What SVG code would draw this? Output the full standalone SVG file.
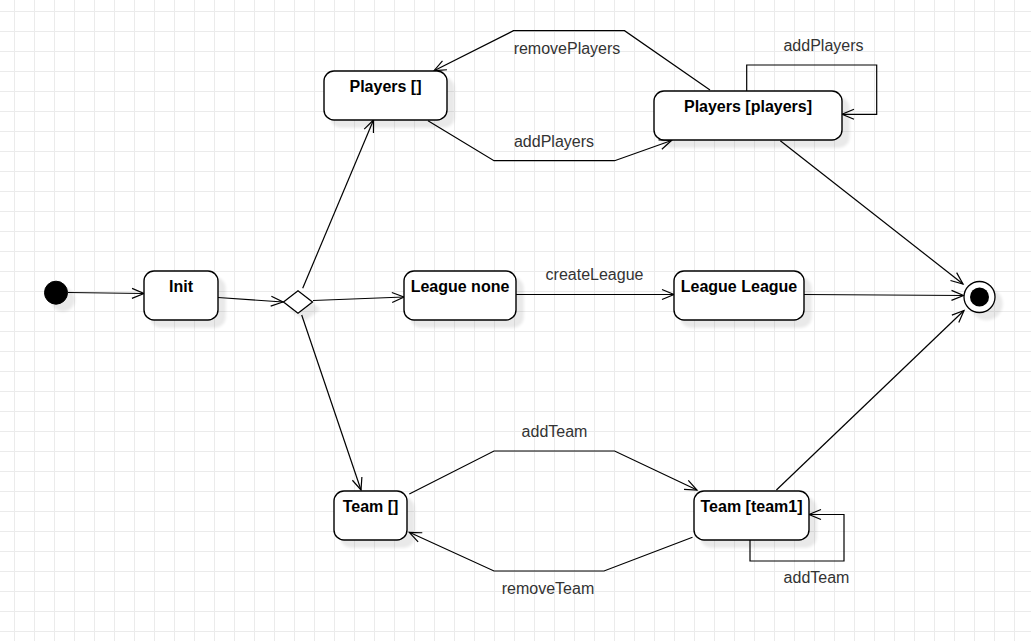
<svg xmlns="http://www.w3.org/2000/svg" width="1031" height="641" viewBox="0 0 1031 641">
  <defs>
    <pattern id="grid" patternUnits="userSpaceOnUse" x="14" y="11" width="20" height="20">
      <rect x="0" y="0" width="1" height="20" fill="#ebebeb"/>
      <rect x="0" y="0" width="20" height="1" fill="#ebebeb"/>
    </pattern>
    <filter id="shadow" x="-20%" y="-20%" width="160%" height="160%">
      <feGaussianBlur in="SourceAlpha" stdDeviation="1.5" result="b"/>
      <feOffset in="b" dx="7" dy="7" result="o"/>
      <feComponentTransfer in="o" result="s">
        <feFuncA type="linear" slope="0.09"/>
      </feComponentTransfer>
      <feMerge>
        <feMergeNode in="s"/>
        <feMergeNode in="SourceGraphic"/>
      </feMerge>
    </filter>
    <marker id="arrow" markerUnits="userSpaceOnUse" markerWidth="16" markerHeight="14" refX="13" refY="7" orient="auto">
      <path d="M1,2 L13,7 L1,12" fill="none" stroke="#000" stroke-width="1.2"/>
    </marker>
    <style>
      .state { fill: #fff; stroke: #000; stroke-width: 1.4; filter: url(#shadow); }
      .name { font-family: "Liberation Sans", Arial, sans-serif; font-size: 16px; font-weight: bold; fill: #000; text-anchor: middle; }
      .lbl { font-family: "Liberation Sans", Arial, sans-serif; font-size: 16px; fill: #333; text-anchor: middle; }
      .edge { fill: none; stroke: #000; stroke-width: 1.2; marker-end: url(#arrow); }
    </style>
  </defs>
  <rect x="0" y="0" width="1031" height="641" fill="#fff"/>
  <rect x="0" y="0" width="1031" height="641" fill="url(#grid)"/>

  <g id="connectors">
    <path class="edge" d="M68,292.5 L144,293.5"/>
    <path class="edge" d="M218,297.5 L283,302"/>
    <path class="edge" d="M302.7,288.3 L373.5,120"/>
    <path class="edge" d="M313,300.5 L404,297"/>
    <path class="edge" d="M301.7,315 L361,490"/>
    <path class="edge" d="M428,120.7 L494,160.7 L614.6,160.7 L671.5,140.5"/>
    <path class="edge" d="M710,90 L624.5,30.7 L513.5,30.7 L434,70.7"/>
    <path class="edge" d="M746.7,91 L746.7,65 L876.7,65 L876.7,114.3 L842,114.3"/>
    <path class="edge" d="M780.3,140.7 L963,284"/>
    <path class="edge" d="M516,294.5 L674,294.5"/>
    <path class="edge" d="M804,294.5 L963.5,295.5"/>
    <path class="edge" d="M776.4,490 L964,310.5"/>
    <path class="edge" d="M409.3,494 L494,451 L614.6,451 L697,490"/>
    <path class="edge" d="M692.5,537.3 L604,571 L494,571 L409.3,532.3"/>
    <path class="edge" d="M750,540 L750,561 L844,561 L844,514.5 L809,514.5"/>
    <text class="lbl" x="567" y="54">removePlayers</text>
    <text class="lbl" x="823.5" y="50.5">addPlayers</text>
    <text class="lbl" x="554" y="147">addPlayers</text>
    <text class="lbl" x="594.5" y="280">createLeague</text>
    <text class="lbl" x="554.5" y="437">addTeam</text>
    <text class="lbl" x="548" y="594">removeTeam</text>
    <text class="lbl" x="816.5" y="583">addTeam</text>
  </g>

  <g id="initial">
    <circle cx="56" cy="292.7" r="11.5" fill="#000" stroke="#000" stroke-width="1" filter="url(#shadow)"/>
  </g>
  <g id="init">
    <rect class="state" x="144" y="271" width="74" height="49" rx="10"/>
    <text class="name" x="181" y="292">Init</text>
  </g>
  <g id="decision">
    <polygon points="283.5,302 298,290.7 312.5,302 298,313.3" fill="#fff" stroke="#000" stroke-width="1.3" filter="url(#shadow)"/>
  </g>
  <g id="players-empty">
    <rect class="state" x="324" y="71" width="123" height="49" rx="10"/>
    <text class="name" x="385.5" y="92">Players []</text>
  </g>
  <g id="players-players">
    <rect class="state" x="654" y="91" width="188" height="49" rx="10"/>
    <text class="name" x="748" y="112">Players [players]</text>
  </g>
  <g id="league-none">
    <rect class="state" x="404" y="271" width="112" height="49" rx="10"/>
    <text class="name" x="460" y="292">League none</text>
  </g>
  <g id="league-league">
    <rect class="state" x="674" y="271" width="130" height="49" rx="10"/>
    <text class="name" x="739" y="292">League League</text>
  </g>
  <g id="team-empty">
    <rect class="state" x="334" y="491" width="73" height="49" rx="10"/>
    <text class="name" x="370.5" y="512">Team []</text>
  </g>
  <g id="team-team1">
    <rect class="state" x="694" y="491" width="115" height="49" rx="10"/>
    <text class="name" x="751.5" y="512">Team [team1]</text>
  </g>
  <g id="final">
    <circle cx="979.5" cy="297" r="15.5" fill="#fff" stroke="#000" stroke-width="1.3" filter="url(#shadow)"/>
    <circle cx="979.5" cy="297" r="9.5" fill="#000"/>
  </g>
</svg>
